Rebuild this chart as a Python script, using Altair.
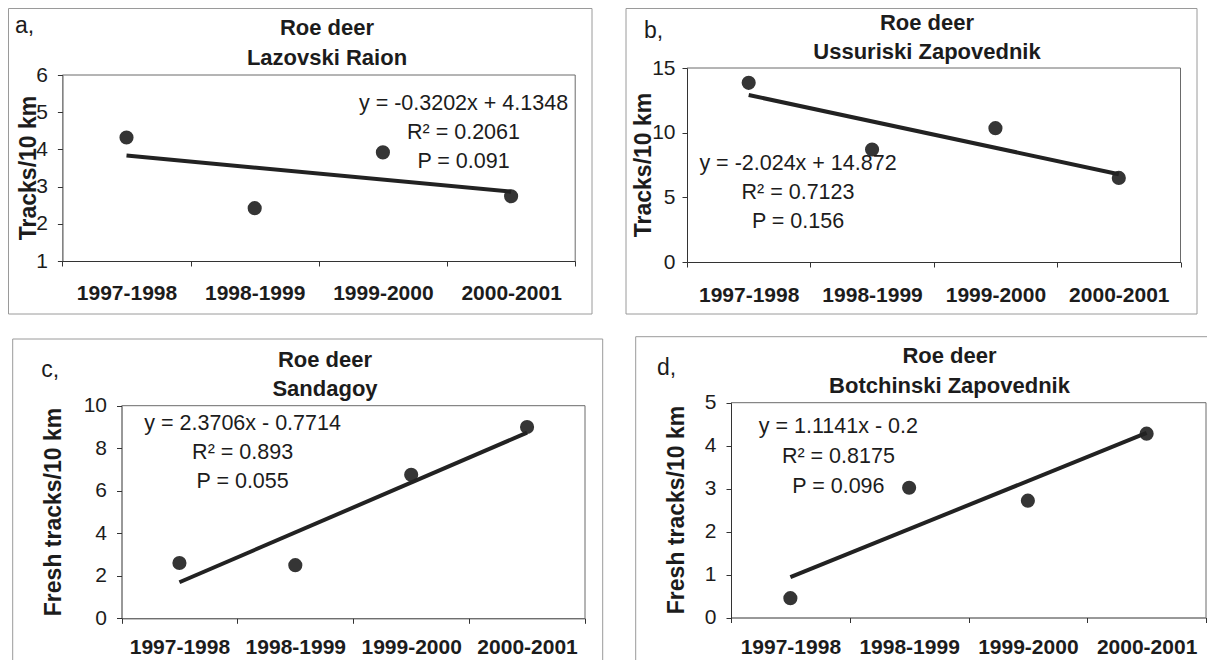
import json
import altair as alt
import pandas as pd

# ---------------- data ----------------
categories = ["1997-1998", "1998-1999", "1999-2000", "2000-2001"]
species = "Roe deer"
sites = ["Lazovski Raion", "Ussuriski Zapovednik", "Sandagoy", "Botchinski Zapovednik"]
panel_letters = ["a,", "b,", "c,", "d,"]
y_titles = ["Tracks/10 km", "Tracks/10 km", "Fresh tracks/10 km", "Fresh tracks/10 km"]

lazovski = [4.32, 2.42, 3.92, 2.74]
ussuriski = [13.85, 8.70, 10.35, 6.50]
sandagoy = [2.60, 2.50, 6.75, 9.00]
botchinski = [0.45, 3.02, 2.72, 4.28]

equations = ["y = -0.3202x + 4.1348", "y = -2.024x + 14.872",
             "y = 2.3706x - 0.7714", "y = 1.1141x - 0.2"]
r_squared = ["0.2061", "0.7123", "0.893", "0.8175"]
p_values = ["0.091", "0.156", "0.055", "0.096"]

y_ticks_a = [1, 2, 3, 4, 5, 6]
y_ticks_b = [0, 5, 10, 15]
y_ticks_c = [0, 2, 4, 6, 8, 10]
y_ticks_d = [0, 1, 2, 3, 4, 5]

# ---------------- styling / layout ----------------
FONT = "Liberation Sans"
INK = "#1c1c1c"
FRAME = "#9a9a9a"
PLOT_BORDER = "#6a6a6a"
VIEW_W, VIEW_H = 1199, 652
one_row = pd.DataFrame({"k": [0]})

x_label_expr = (
    "datum.value % 1 === 0 ? " + json.dumps(categories) + "[datum.value - 1] : ''"
)
x_tick_values = [0.5, 1, 1.5, 2, 2.5, 3, 3.5, 4, 4.5]


def P(v):
    """page pixel -> view pixel"""
    return v - 8


def text_layer(txt, x, y, size, weight="normal", align="center", angle=0):
    return alt.Chart(one_row).mark_text(
        text=txt, font=FONT, fontSize=size, fontWeight=weight, angle=angle,
        align=align, baseline="alphabetic", color=INK,
    ).encode(x=alt.value(x), y=alt.value(y))


def rule_layer(x, x2, y, y2, color=FRAME):
    return alt.Chart(one_row).mark_rule(color=color, strokeWidth=1).encode(
        x=alt.value(x), x2=alt.value(x2), y=alt.value(y), y2=alt.value(y2)
    )


def panel(i, values, ticks, box, frame_edges, letter_pos, title_x, title_ys,
          ann_x, ann_ys, ytitle_pos, ylab_pad, xlab_pad):
    L, R, T, B = [P(v) for v in box]
    df = pd.DataFrame({"x": [k + 1 for k in range(len(categories))], "y": values})
    x_enc = alt.X(
        "x:Q",
        scale=alt.Scale(domain=[0.5, 4.5], range=[L, R], nice=False, zero=False),
        axis=alt.Axis(
            orient="bottom", offset=B - VIEW_H, zindex=1,
            values=x_tick_values, labelExpr=x_label_expr, title=None, grid=False,
            tickSize=5, tickColor="#333", domainColor="#333",
            tickOpacity={"condition": {"test": "datum.value % 1 === 0", "value": 0}, "value": 1},
            labelFont=FONT, labelFontSize=21, labelFontWeight="bold", labelColor=INK,
            labelPadding=xlab_pad, labelFlush=False, labelOverlap=False,
        ),
    )
    y_enc = alt.Y(
        "y:Q",
        scale=alt.Scale(domain=[ticks[0], ticks[-1]], range=[B, T], nice=False, zero=False),
        axis=alt.Axis(
            orient="left", offset=-L, zindex=1,
            values=ticks, grid=False, tickSize=5, tickColor="#333", domainColor="#333",
            labelFont=FONT, labelFontSize=21, labelColor=INK, labelPadding=ylab_pad,
            title=None,
        ),
    )

    layers = []
    for (x, x2, y, y2) in frame_edges:
        layers.append(rule_layer(P(x), P(x2), P(y), P(y2)))
    # plot-area border (top and right edges; left/bottom are the axis lines)
    layers.append(rule_layer(L, R, T, T, PLOT_BORDER))
    layers.append(rule_layer(R, R, T, B, PLOT_BORDER))

    points = alt.Chart(df).mark_circle(size=200, color="#353535", opacity=1).encode(x_enc, y_enc)
    line = (
        alt.Chart(df)
        .transform_regression("x", "y")
        .mark_line(color="#222222", strokeWidth=4)
        .encode(x_enc, y_enc)
    )
    layers += [points, line]

    layers.append(text_layer(panel_letters[i], P(letter_pos[0]), P(letter_pos[1]), 23, align="left"))
    layers.append(text_layer(species, P(title_x), P(title_ys[0]), 22, weight="bold"))
    layers.append(text_layer(sites[i], P(title_x), P(title_ys[1]), 22, weight="bold"))
    layers.append(text_layer(equations[i], P(ann_x), P(ann_ys[0]), 21.5))
    layers.append(text_layer("R\u00b2 = " + r_squared[i], P(ann_x), P(ann_ys[1]), 21.5))
    layers.append(text_layer("P = " + p_values[i], P(ann_x), P(ann_ys[2]), 21.5))
    layers.append(text_layer(y_titles[i], P(ytitle_pos[0]), P(ytitle_pos[1]), 23,
                             weight="bold", angle=270))

    return alt.layer(*layers)


# positions below are page pixels measured on the reference
pa = panel(
    0, lazovski, y_ticks_a, box=(62.4, 575.2, 75, 261),
    frame_edges=[(8.5, 592, 8.5, 8.5), (8.5, 592, 314, 314),
                 (8.5, 8.5, 8.5, 314), (592, 592, 8.5, 314)],
    letter_pos=(15, 33), title_x=327, title_ys=(35, 65),
    ann_x=463.5, ann_ys=(110, 139, 168), ytitle_pos=(36, 168), ylab_pad=10, xlab_pad=16,
)
pb = panel(
    1, ussuriski, y_ticks_b, box=(687, 1180.5, 68, 262),
    frame_edges=[(626, 1197, 8.5, 8.5), (626, 1197, 314, 314),
                 (626, 626, 8.5, 314), (1197, 1197, 8.5, 314)],
    letter_pos=(644, 38.3), title_x=927, title_ys=(30, 59),
    ann_x=798, ann_ys=(170, 199, 228), ytitle_pos=(651, 165), ylab_pad=7, xlab_pad=17,
)
pc = panel(
    2, sandagoy, y_ticks_c, box=(121.5, 585, 405.7, 618.3),
    frame_edges=[(12.7, 602.7, 339, 339), (12.7, 12.7, 339, 660),
                 (602.7, 602.7, 339, 660)],
    letter_pos=(41.3, 376.7), title_x=325, title_ys=(366.7, 396),
    ann_x=242.6, ann_ys=(430, 459.3, 488.3), ytitle_pos=(61, 512), ylab_pad=10, xlab_pad=13,
)
pd_ = panel(
    3, botchinski, y_ticks_d, box=(731, 1206, 402.7, 617.5),
    frame_edges=[(635.7, 1207, 336.7, 336.7), (635.7, 635.7, 336.7, 660)],
    letter_pos=(656.9, 375), title_x=949.5, title_ys=(363.3, 392.7),
    ann_x=838.4, ann_ys=(433.3, 462.7, 492.7), ytitle_pos=(684.3, 510), ylab_pad=10, xlab_pad=14,
)

chart = (
    alt.layer(pa, pb, pc, pd_)
    .resolve_scale(x="independent", y="independent")
    .resolve_axis(x="independent", y="independent")
    .properties(
        width=VIEW_W, height=VIEW_H, padding=0, background="white",
        autosize=alt.AutoSizeParams(type="none"),
    )
    .configure_view(stroke=None)
)

chart.save("out.html", embed_options={"renderer": "svg", "actions": False})
